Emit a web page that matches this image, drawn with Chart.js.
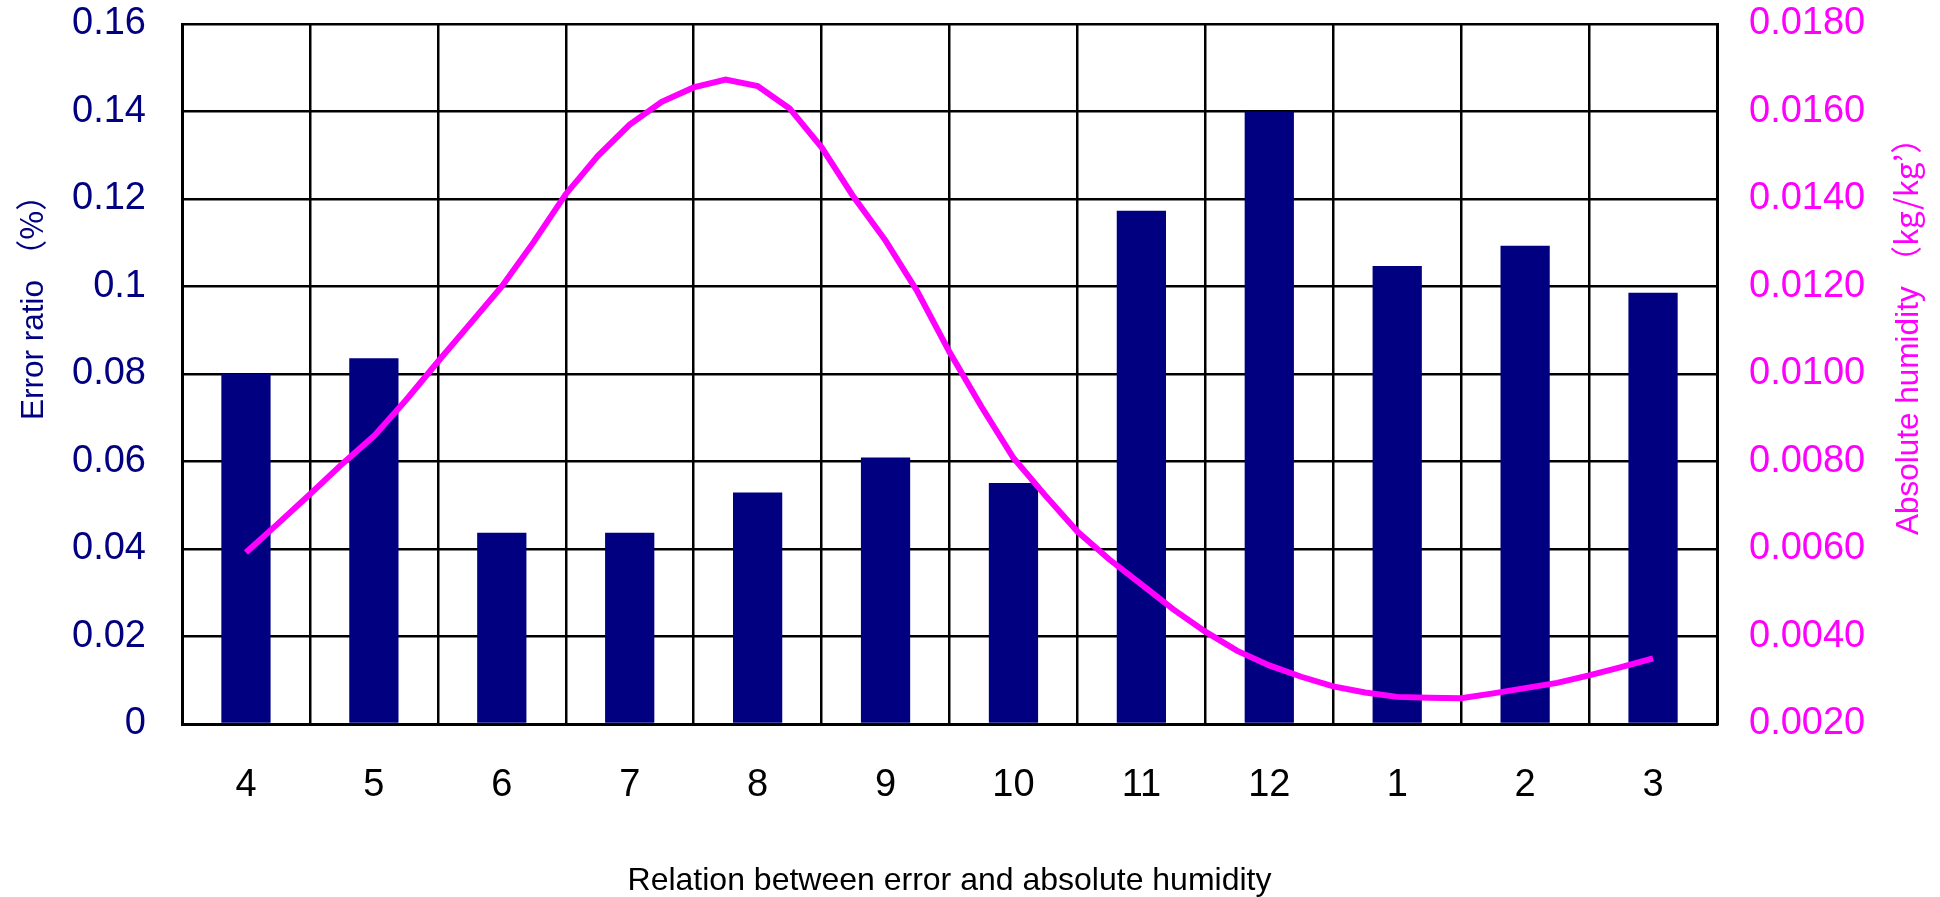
<!DOCTYPE html>
<html>
<head>
<meta charset="utf-8">
<script src="https://cdn.jsdelivr.net/npm/chart.js@4/dist/chart.umd.min.js"></script>
<style>
  html, body { margin: 0; padding: 0; background: #ffffff; }
  #c { display: block; }
</style>
</head>
<body>
<canvas id="c" width="1940" height="897" style="width:1940px;height:897px"></canvas>
<script>
// ---- Data ----
const categories = ['4', '5', '6', '7', '8', '9', '10', '11', '12', '1', '2', '3'];
const errorRatio = [0.0800, 0.0836, 0.0437, 0.0437, 0.0529, 0.0609, 0.0551, 0.1173, 0.1400, 0.1047, 0.1093, 0.0986];

// Absolute humidity curve: position in month-index units (0 = month 4 ... 11 = month 3)
const humidityPos = [0, 0.25, 0.5, 0.75, 1, 1.25, 1.5, 1.75, 2, 2.25, 2.5, 2.75, 3, 3.25, 3.5, 3.75,
  4, 4.25, 4.5, 4.75, 5, 5.25, 5.5, 5.75, 6, 6.25, 6.5, 6.75, 7, 7.25, 7.5, 7.75,
  8, 8.25, 8.5, 8.75, 9, 9.25, 9.5, 9.75, 10, 10.25, 10.5, 10.75, 11];
const humidity = [0.00592, 0.00658, 0.00725, 0.00794, 0.00858, 0.00940, 0.01028, 0.01114,
  0.01200, 0.01302, 0.01411, 0.01498, 0.01570, 0.01622, 0.01655, 0.01673,
  0.01658, 0.01607, 0.01518, 0.01405, 0.01305, 0.01188, 0.01050, 0.00925,
  0.00808, 0.00722, 0.00640, 0.00576, 0.00519, 0.00462, 0.00411, 0.00367,
  0.00334, 0.00308, 0.00286, 0.00272, 0.00262, 0.00260, 0.00259, 0.00270,
  0.00282, 0.00294, 0.00311, 0.00330, 0.00350];

const leftTicks = [0, 0.02, 0.04, 0.06, 0.08, 0.10, 0.12, 0.14, 0.16];
const leftTickLabels = ['0', '0.02', '0.04', '0.06', '0.08', '0.1', '0.12', '0.14', '0.16'];
const rightTicks = [0.002, 0.004, 0.006, 0.008, 0.010, 0.012, 0.014, 0.016, 0.018];
const rightTickLabels = ['0.0020', '0.0040', '0.0060', '0.0080', '0.0100', '0.0120', '0.0140', '0.0160', '0.0180'];

const xTitle = 'Relation between error and absolute humidity';
const leftTitle = ['Error ratio ', '（%）'];
const rightTitle = ['Absolute humidity ', '（kg/kg’）'];

// ---- Styles ----
const FAMILY = '"Liberation Sans", Arial, sans-serif';
const CJK = '"Noto Sans CJK JP", "Liberation Sans", sans-serif';
const NAVY = '#000080';
const MAGENTA = '#FF00FF';

const sideTitles = {
  id: 'sideTitles',
  afterDraw(chart) {
    const ctx = chart.ctx;
    const ca = chart.chartArea;
    const draw = (parts, color, x, y) => {
      ctx.save();
      ctx.translate(x, y);
      ctx.rotate(-Math.PI / 2);
      ctx.fillStyle = color;
      ctx.textAlign = 'left';
      ctx.textBaseline = 'alphabetic';
      let pos = 0;
      ctx.font = '31.5px ' + FAMILY;
      ctx.fillText(parts[0], pos, 0);
      pos += ctx.measureText(parts[0]).width;
      ctx.font = '31.5px ' + CJK;
      ctx.fillText(parts[1], pos, 0);
      ctx.restore();
    };
    draw(leftTitle, NAVY, ca.left - 139, ca.bottom - 304);
    draw(rightTitle, MAGENTA, ca.right + 201, ca.bottom - 189);
  }
};

const noPad = (s) => { s.paddingTop = 0; s.paddingBottom = 0; s.paddingLeft = 0; s.paddingRight = 0; };

new Chart(document.getElementById('c'), {
  type: 'bar',
  data: {
    labels: categories,
    datasets: [
      {
        type: 'line',
        label: 'Absolute humidity',
        data: humidityPos.map((p, i) => ({ x: p, y: humidity[i] })),
        xAxisID: 'xLine',
        yAxisID: 'y1',
        borderColor: MAGENTA,
        backgroundColor: MAGENTA,
        borderWidth: 6,
        pointRadius: 0,
        tension: 0,
        fill: false,
        order: 0
      },
      {
        type: 'bar',
        label: 'Error ratio',
        data: errorRatio,
        xAxisID: 'x',
        yAxisID: 'y',
        backgroundColor: NAVY,
        borderWidth: 0,
        grouped: false,
        barPercentage: 0.385,
        categoryPercentage: 1,
        order: 1
      }
    ]
  },
  options: {
    responsive: false,
    animation: false,
    devicePixelRatio: 1,
    layout: { padding: { top: 24, left: 0, right: 0, bottom: 0 } },
    plugins: {
      legend: { display: false },
      tooltip: { enabled: false },
      title: { display: false }
    },
    scales: {
      x: {
        type: 'category',
        position: 'bottom',
        offset: true,
        grid: { offset: true, color: '#000', lineWidth: 2.5, drawTicks: false },
        border: { display: true, color: '#000', width: 3, z: 1 },
        ticks: { color: '#000', font: { size: 38, family: FAMILY }, padding: 39, maxRotation: 0, autoSkip: false },
        title: { display: true, text: xTitle, color: '#000', font: { size: 32, family: FAMILY, lineHeight: 1 }, padding: { top: 0, bottom: 0 } },
        afterFit: (s) => { s.height = 173; noPad(s); }
      },
      xLine: {
        type: 'linear',
        axis: 'x',
        position: 'bottom',
        display: false,
        offset: false,
        grid: { offset: false },
        min: -0.5,
        max: 11.5
      },
      y: {
        type: 'linear',
        position: 'left',
        min: 0,
        max: 0.16,
        grid: { color: '#000', lineWidth: 2.5, drawTicks: false },
        border: { display: true, color: '#000', width: 3, z: 1 },
        ticks: {
          color: NAVY,
          font: { size: 38, family: FAMILY },
          padding: 36,
          autoSkip: false,
          callback: (v, i) => leftTickLabels[i]
        },
        afterBuildTicks: (s) => { s.ticks = leftTicks.map(v => ({ value: v })); },
        afterFit: (s) => { s.width = 182; noPad(s); }
      },
      y1: {
        type: 'linear',
        position: 'right',
        min: 0.002,
        max: 0.018,
        grid: { display: false, drawTicks: false },
        border: { display: true, color: '#000', width: 3, z: 1 },
        ticks: {
          color: MAGENTA,
          font: { size: 38, family: FAMILY },
          padding: 32,
          autoSkip: false,
          callback: (v, i) => rightTickLabels[i]
        },
        afterBuildTicks: (s) => { s.ticks = rightTicks.map(v => ({ value: v })); },
        afterFit: (s) => { s.width = 223; noPad(s); }
      }
    }
  },
  plugins: [sideTitles]
});
</script>
</body>
</html>
